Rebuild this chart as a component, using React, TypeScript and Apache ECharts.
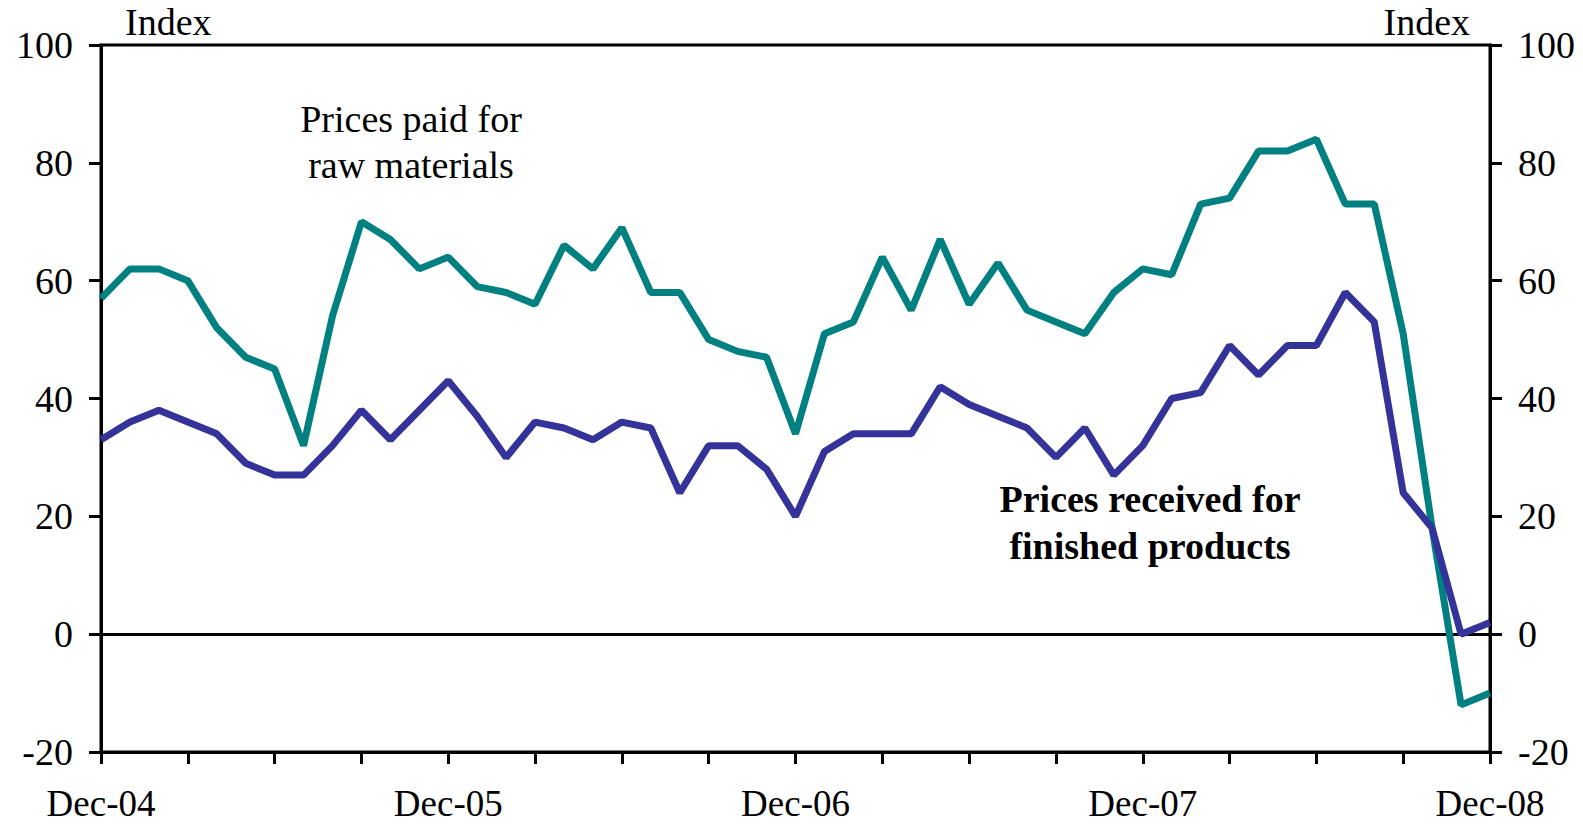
import React, { useEffect, useRef } from "react";
import * as echarts from "echarts";

const monthNames = ["Jan", "Feb", "Mar", "Apr", "May", "Jun", "Jul", "Aug", "Sep", "Oct", "Nov", "Dec"];
const categories: string[] = [];
for (let i = 0; i < 49; i++) {
  const m = (11 + i) % 12;
  const y = 4 + Math.floor((11 + i) / 12);
  categories.push(`${monthNames[m]}-${String(y).padStart(2, "0")}`);
}

const rawMaterials = [
  57, 62, 62, 60, 52, 47, 45, 32, 54, 70,
  67, 62, 64, 59, 58, 56, 66, 62, 69, 58,
  58, 50, 48, 47, 34, 51, 53, 64, 55, 67,
  56, 63, 55, 53, 51, 58, 62, 61, 73, 74,
  82, 82, 84, 73, 73, 51, 18, -12, -10,
];

const finishedProducts = [
  33, 36, 38, 36, 34, 29, 27, 27, 32, 38,
  33, 38, 43, 37, 30, 36, 35, 33, 36, 35,
  24, 32, 32, 28, 20, 31, 34, 34, 34, 42,
  39, 37, 35, 30, 35, 27, 32, 40, 41, 49,
  44, 49, 49, 58, 53, 24, 18, 0, 2,
];

const yTicks = { min: -20, max: 100, interval: 20 };

export default function App() {
  const ref = useRef<HTMLDivElement>(null);
  useEffect(() => {
    document.body.style.margin = "0";
    if (!ref.current) return;
    const chart = echarts.init(ref.current, null, { renderer: "svg" });
    const font = "'Liberation Serif', 'Times New Roman', serif";
    const fs = 38;
    const yAxisCommon = {
      type: "value" as const,
      min: yTicks.min,
      max: yTicks.max,
      interval: yTicks.interval,
      axisLine: { show: true, lineStyle: { color: "#000", width: 3 } },
      axisTick: { show: true, inside: false, length: 12, lineStyle: { color: "#000", width: 3 } },
      axisLabel: { color: "#000", fontFamily: font, fontSize: fs, margin: 28 },
      splitLine: { show: false },
    };
    chart.setOption({
      animation: false,
      backgroundColor: "#fff",
      grid: {
        left: 101,
        right: 93,
        top: 45,
        bottom: 75,
        show: true,
        borderColor: "#000",
        borderWidth: 3,
        containLabel: false,
      },
      xAxis: {
        type: "category",
        data: categories,
        boundaryGap: false,
        axisLine: { show: true, onZero: false, lineStyle: { color: "#000", width: 3 } },
        axisTick: {
          show: true,
          length: 12,
          interval: (idx: number) => idx % 3 === 0,
          lineStyle: { color: "#000", width: 3 },
        },
        axisLabel: {
          color: "#000",
          fontFamily: font,
          fontSize: 37,
          lineHeight: 30,
          margin: 36,
          interval: (idx: number) => idx % 12 === 0,
          showMinLabel: true,
          showMaxLabel: true,
        },
        splitLine: { show: false },
      },
      yAxis: [
        { ...yAxisCommon, position: "left" },
        { ...yAxisCommon, position: "right" },
      ],
      series: [
        {
          name: "Prices paid for raw materials",
          type: "line",
          data: rawMaterials,
          yAxisIndex: 0,
          symbol: "none",
          lineStyle: { color: "#008080", width: 7 },
          itemStyle: { color: "#008080" },
          z: 3,
          markLine: {
            silent: true,
            symbol: "none",
            label: { show: false },
            lineStyle: { color: "#000", width: 3, type: "solid" },
            data: [{ yAxis: 0 }],
            z: 1,
          },
        },
        {
          name: "Prices received for finished products",
          type: "line",
          data: finishedProducts,
          yAxisIndex: 0,
          symbol: "none",
          lineStyle: { color: "#333399", width: 7 },
          itemStyle: { color: "#333399" },
          z: 4,
        },
      ],
      graphic: [
        {
          type: "text",
          left: 125,
          top: 3,
          style: { text: "Index", font: `${fs}px ${font}`, fill: "#000" },
        },
        {
          type: "text",
          right: 113,
          top: 3,
          style: { text: "Index", font: `${fs}px ${font}`, fill: "#000" },
        },
        {
          type: "text",
          x: 411,
          y: 142,
          style: {
            text: "Prices paid for\nraw materials",
            font: `${fs}px ${font}`,
            fill: "#000",
            align: "center",
            verticalAlign: "middle",
            lineHeight: 46,
          },
        },
        {
          type: "text",
          x: 1150,
          y: 522,
          style: {
            text: "Prices received for\nfinished products",
            font: `bold ${fs}px ${font}`,
            fill: "#000",
            align: "center",
            verticalAlign: "middle",
            lineHeight: 47,
          },
        },
      ],
    });
    return () => chart.dispose();
  }, []);
  return <div ref={ref} style={{ width: 1583, height: 827 }} />;
}
